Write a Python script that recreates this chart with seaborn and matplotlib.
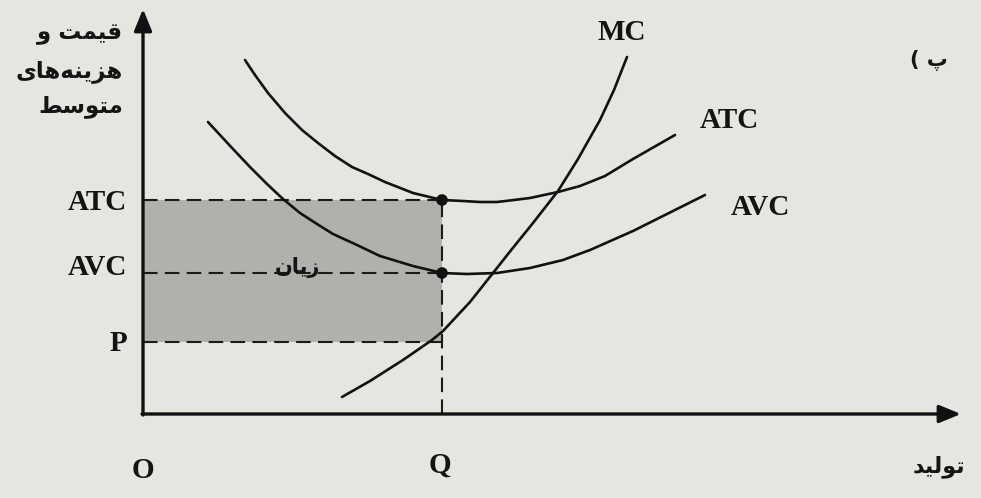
import numpy as np
import pandas as pd
import matplotlib
matplotlib.use("Agg")
import matplotlib.pyplot as plt
import seaborn as sns

# --- values (quantity q, price/cost p, origin at O) ---
q_level = 299                    # Q
atc_level = 214                  # ATC at Q
avc_level = 141                  # AVC at Q
p_level = 72                     # price P

atc_q = [102, 112, 125, 142, 159, 175, 192, 209, 225, 242, 270, 299, 320, 337,
         354, 371, 387, 415, 437, 462, 490, 532]
atc_p = [354, 339, 321, 301, 284, 271, 258, 247, 240, 232, 221, 214, 213, 212,
         212, 214, 216, 222, 228, 238, 255, 279]

avc_q = [65, 77, 90, 107, 124, 140, 157, 174, 190, 214, 237, 270, 299, 324,
         354, 387, 420, 447, 490, 524, 562]
avc_p = [292, 279, 265, 247, 230, 215, 201, 190, 180, 169, 158, 148, 141, 140,
         141, 146, 154, 164, 183, 200, 219]

mc_q = [199, 227, 260, 289, 300, 327, 350, 369, 390, 415, 435, 457, 471, 484]
mc_p = [17, 33, 54, 74, 83, 112, 141, 165, 191, 223, 255, 294, 324, 357]

y_ticks = ["ATC", "AVC", "P"]
y_title = ["قیمت و", "هزینه‌های", "متوسط"]
loss_label = "زیان"
x_title = "تولید"
panel_label = "پ )"

# --- tiny Persian shaper: matplotlib has no bidi / joining of its own ---
FORMS = {
    "ا": (0xFE8D, 0xFE8E, None, None),
    "ت": (0xFE95, 0xFE96, 0xFE97, 0xFE98),
    "د": (0xFEA9, 0xFEAA, None, None),
    "ز": (0xFEAF, 0xFEB0, None, None),
    "س": (0xFEB1, 0xFEB2, 0xFEB3, 0xFEB4),
    "ط": (0xFEC1, 0xFEC2, 0xFEC3, 0xFEC4),
    "ق": (0xFED5, 0xFED6, 0xFED7, 0xFED8),
    "ل": (0xFEDD, 0xFEDE, 0xFEDF, 0xFEE0),
    "م": (0xFEE1, 0xFEE2, 0xFEE3, 0xFEE4),
    "ن": (0xFEE5, 0xFEE6, 0xFEE7, 0xFEE8),
    "ه": (0xFEE9, 0xFEEA, 0xFEEB, 0xFEEC),
    "و": (0xFEED, 0xFEEE, None, None),
    "ی": (0xFEEF, 0xFEF0, 0xFEF3, 0xFEF4),
    "پ": (0xFB56, 0xFB57, 0xFB58, 0xFB59),
}
MIRROR = {"(": ")", ")": "("}


def shape(text):
    out = []
    for i, ch in enumerate(text):
        if ch not in FORMS:
            if ch != "\u200c":
                out.append(MIRROR.get(ch, ch))
            continue
        prev = text[i - 1] if i > 0 else ""
        nxt = text[i + 1] if i + 1 < len(text) else ""
        join_prev = prev in FORMS and FORMS[prev][2] is not None
        join_next = FORMS[ch][2] is not None and nxt in FORMS
        iso, fin, ini, med = FORMS[ch]
        if join_prev and join_next:
            code = med
        elif join_prev:
            code = fin
        elif join_next:
            code = ini
        else:
            code = iso
        out.append(chr(code))
    return "".join(reversed(out))


sns.set_theme(style="white")
plt.rcParams["font.family"] = ["Liberation Serif", "DejaVu Serif"]

bg = "#e7e5e0"
ink = "#141414"
fig = plt.figure(figsize=(9.81, 4.98), dpi=100, facecolor=bg)
ax = fig.add_axes([0, 0, 1, 1])
ax.set_facecolor(bg)
ax.set_xlim(-143, 838)
ax.set_ylim(-84, 414)
ax.axis("off")

# loss rectangle
ax.fill_between([0, q_level], p_level, atc_level, color="#b2b0ac", lw=0, zorder=1)

# dashed guides
dash = dict(color="#1a1a1a", lw=1.5, ls=(0, (7, 3.5)), zorder=2)
for lvl in [atc_level, avc_level, p_level]:
    ax.plot([0, q_level], [lvl, lvl], **dash)
ax.plot([q_level, q_level], [0, atc_level], **dash)

# axes with arrow heads
arrow = dict(arrowstyle="-|>,head_length=1.1,head_width=0.45", color="#111111",
             lw=2.4, shrinkA=0, shrinkB=0)
ax.annotate("", xy=(0, 405), xytext=(0, -1), arrowprops=arrow, zorder=4)
ax.annotate("", xy=(818, 0), xytext=(-1, 0), arrowprops=arrow, zorder=4)

# cost curves
curves = pd.concat([
    pd.DataFrame({"q": atc_q, "p": atc_p, "curve": "ATC"}),
    pd.DataFrame({"q": avc_q, "p": avc_p, "curve": "AVC"}),
    pd.DataFrame({"q": mc_q, "p": mc_p, "curve": "MC"}),
])
sns.lineplot(data=curves, x="q", y="p", units="curve", estimator=None, sort=False,
             color="#111111", lw=1.9, ax=ax, zorder=3,
             solid_joinstyle="round", solid_capstyle="round")

dots = pd.DataFrame({"q": [q_level, q_level], "p": [atc_level, avc_level]})
sns.scatterplot(data=dots, x="q", y="p", color="#111111", s=70, edgecolor="none",
                ax=ax, zorder=5)

# curve labels
lab = dict(fontsize=21, color=ink, ha="center", va="center", fontweight="bold")
ax.text(479, 382, "MC", **lab)
ax.text(586, 294, "ATC", **lab)
ax.text(617, 207, "AVC", **lab)

# y tick labels
for txt, lvl in zip(y_ticks, [212, 147, 71]):
    ax.text(-16, lvl, txt, fontsize=21, color=ink, ha="right", va="center",
            fontweight="bold")
ax.text(0, -56, "O", **lab)
ax.text(297, -51, "Q", **lab)

# Persian text
fa = dict(family=["DejaVu Sans"], fontweight="bold", color=ink, va="center")
for txt, y in zip(y_title, [381, 343, 308]):
    ax.text(-20, y, shape(txt), fontsize=16.5, ha="right", **fa)
ax.text(154, 147, shape(loss_label), fontsize=15, ha="center", **fa)
ax.text(796, -53, shape(x_title), fontsize=16, ha="center", **fa)
ax.text(786, 354, shape(panel_label), fontsize=15, ha="center", **fa)

fig.savefig("out.png", dpi=100, facecolor=bg)
